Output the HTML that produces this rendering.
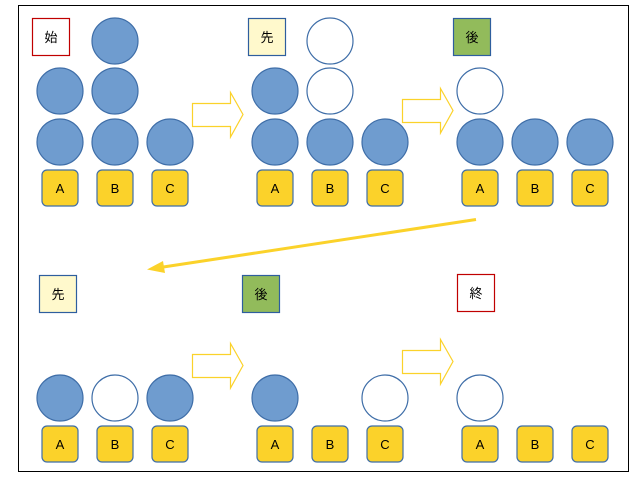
<!DOCTYPE html>
<html><head><meta charset="utf-8"><style>
html,body{margin:0;padding:0;background:#fff;}
svg{display:block;}
text{font-family:"Liberation Sans","Noto Sans CJK JP",sans-serif;}
</style></head><body>
<svg width="640" height="480" viewBox="0 0 640 480" xmlns="http://www.w3.org/2000/svg">
<rect x="18.5" y="5.5" width="610" height="466" fill="#fff" stroke="#000" stroke-width="1"/>
<defs>
<g id="lab">
</g>
</defs>
<!-- tag boxes -->
<g font-size="13" text-anchor="middle">
<rect x="32.5" y="18.5" width="37" height="37" fill="#fff" stroke="#c00000" stroke-width="1.2"/><text x="51" y="42">始</text>
<rect x="248.5" y="18.5" width="37" height="37" fill="#fff9cc" stroke="#2e5e9e" stroke-width="1.2"/><text x="267" y="42">先</text>
<rect x="453.5" y="18.5" width="37" height="37" fill="#92bb5b" stroke="#2e5e9e" stroke-width="1.2"/><text x="472" y="42">後</text>
<rect x="39.5" y="275.5" width="37" height="37" fill="#fff9cc" stroke="#2e5e9e" stroke-width="1.2"/><text x="58" y="299">先</text>
<rect x="242.5" y="275.5" width="37" height="37" fill="#92bb5b" stroke="#2e5e9e" stroke-width="1.2"/><text x="261" y="299">後</text>
<rect x="457.5" y="274.5" width="37" height="37" fill="#fff" stroke="#c00000" stroke-width="1.2"/><text x="476" y="298">終</text>
</g>
<!-- circles -->
<g stroke="#3f6ea8" stroke-width="1.2">
<g fill="#6f9ccf">
<circle cx="60" cy="142" r="23"/><circle cx="60" cy="91" r="23"/>
<circle cx="115" cy="142" r="23"/><circle cx="115" cy="91" r="23"/><circle cx="115" cy="41" r="23"/>
<circle cx="170" cy="142" r="23"/>
<circle cx="275" cy="142" r="23"/><circle cx="275" cy="91" r="23"/>
<circle cx="330" cy="142" r="23"/><circle cx="385" cy="142" r="23"/>
<circle cx="480" cy="142" r="23"/><circle cx="535" cy="142" r="23"/><circle cx="590" cy="142" r="23"/>
<circle cx="60" cy="398" r="23"/><circle cx="170" cy="398" r="23"/>
<circle cx="275" cy="398" r="23"/>
</g>
<g fill="#fff">
<circle cx="330" cy="91" r="23"/><circle cx="330" cy="41" r="23"/>
<circle cx="480" cy="91" r="23"/>
<circle cx="115" cy="398" r="23"/>
<circle cx="385" cy="398" r="23"/>
<circle cx="480" cy="398" r="23"/>
</g>
</g>
<!-- labels -->
<g font-size="13" text-anchor="middle">
<g fill="#fbd22a" stroke="#3f6ea8" stroke-width="1.2">
<rect x="42" y="170" width="36" height="36" rx="5"/><rect x="97" y="170" width="36" height="36" rx="5"/><rect x="152" y="170" width="36" height="36" rx="5"/>
<rect x="257" y="170" width="36" height="36" rx="5"/><rect x="312" y="170" width="36" height="36" rx="5"/><rect x="367" y="170" width="36" height="36" rx="5"/>
<rect x="462" y="170" width="36" height="36" rx="5"/><rect x="517" y="170" width="36" height="36" rx="5"/><rect x="572" y="170" width="36" height="36" rx="5"/>
<rect x="42" y="426" width="36" height="36" rx="5"/><rect x="97" y="426" width="36" height="36" rx="5"/><rect x="152" y="426" width="36" height="36" rx="5"/>
<rect x="257" y="426" width="36" height="36" rx="5"/><rect x="312" y="426" width="36" height="36" rx="5"/><rect x="367" y="426" width="36" height="36" rx="5"/>
<rect x="462" y="426" width="36" height="36" rx="5"/><rect x="517" y="426" width="36" height="36" rx="5"/><rect x="572" y="426" width="36" height="36" rx="5"/>
</g>
<g fill="#000">
<text x="60" y="193">A</text><text x="115" y="193">B</text><text x="170" y="193">C</text>
<text x="275" y="193">A</text><text x="330" y="193">B</text><text x="385" y="193">C</text>
<text x="480" y="193">A</text><text x="535" y="193">B</text><text x="590" y="193">C</text>
<text x="60" y="449">A</text><text x="115" y="449">B</text><text x="170" y="449">C</text>
<text x="275" y="449">A</text><text x="330" y="449">B</text><text x="385" y="449">C</text>
<text x="480" y="449">A</text><text x="535" y="449">B</text><text x="590" y="449">C</text>
</g>
</g>
<!-- block arrows -->
<g fill="#fff" stroke="#fbd22a" stroke-width="1.2">
<path d="M192.5 103.5 H230.5 V92.5 L243 114.5 L230.5 137 V126.5 H192.5 Z"/>
<path d="M402.5 99.5 H440.5 V88.5 L453 110.5 L440.5 133 V122.5 H402.5 Z"/>
<path d="M192.5 354.5 H230.5 V343.5 L243 365.5 L230.5 388 V377.5 H192.5 Z"/>
<path d="M402.5 350.5 H440.5 V339.5 L453 361.5 L440.5 384 V373.5 H402.5 Z"/>
</g>
<!-- diagonal connector -->
<line x1="476" y1="219.5" x2="160" y2="267.5" stroke="#fbd22a" stroke-width="3"/>
<polygon points="147,269.5 163,261 165,273" fill="#fbd22a"/>
</svg>
</body></html>
